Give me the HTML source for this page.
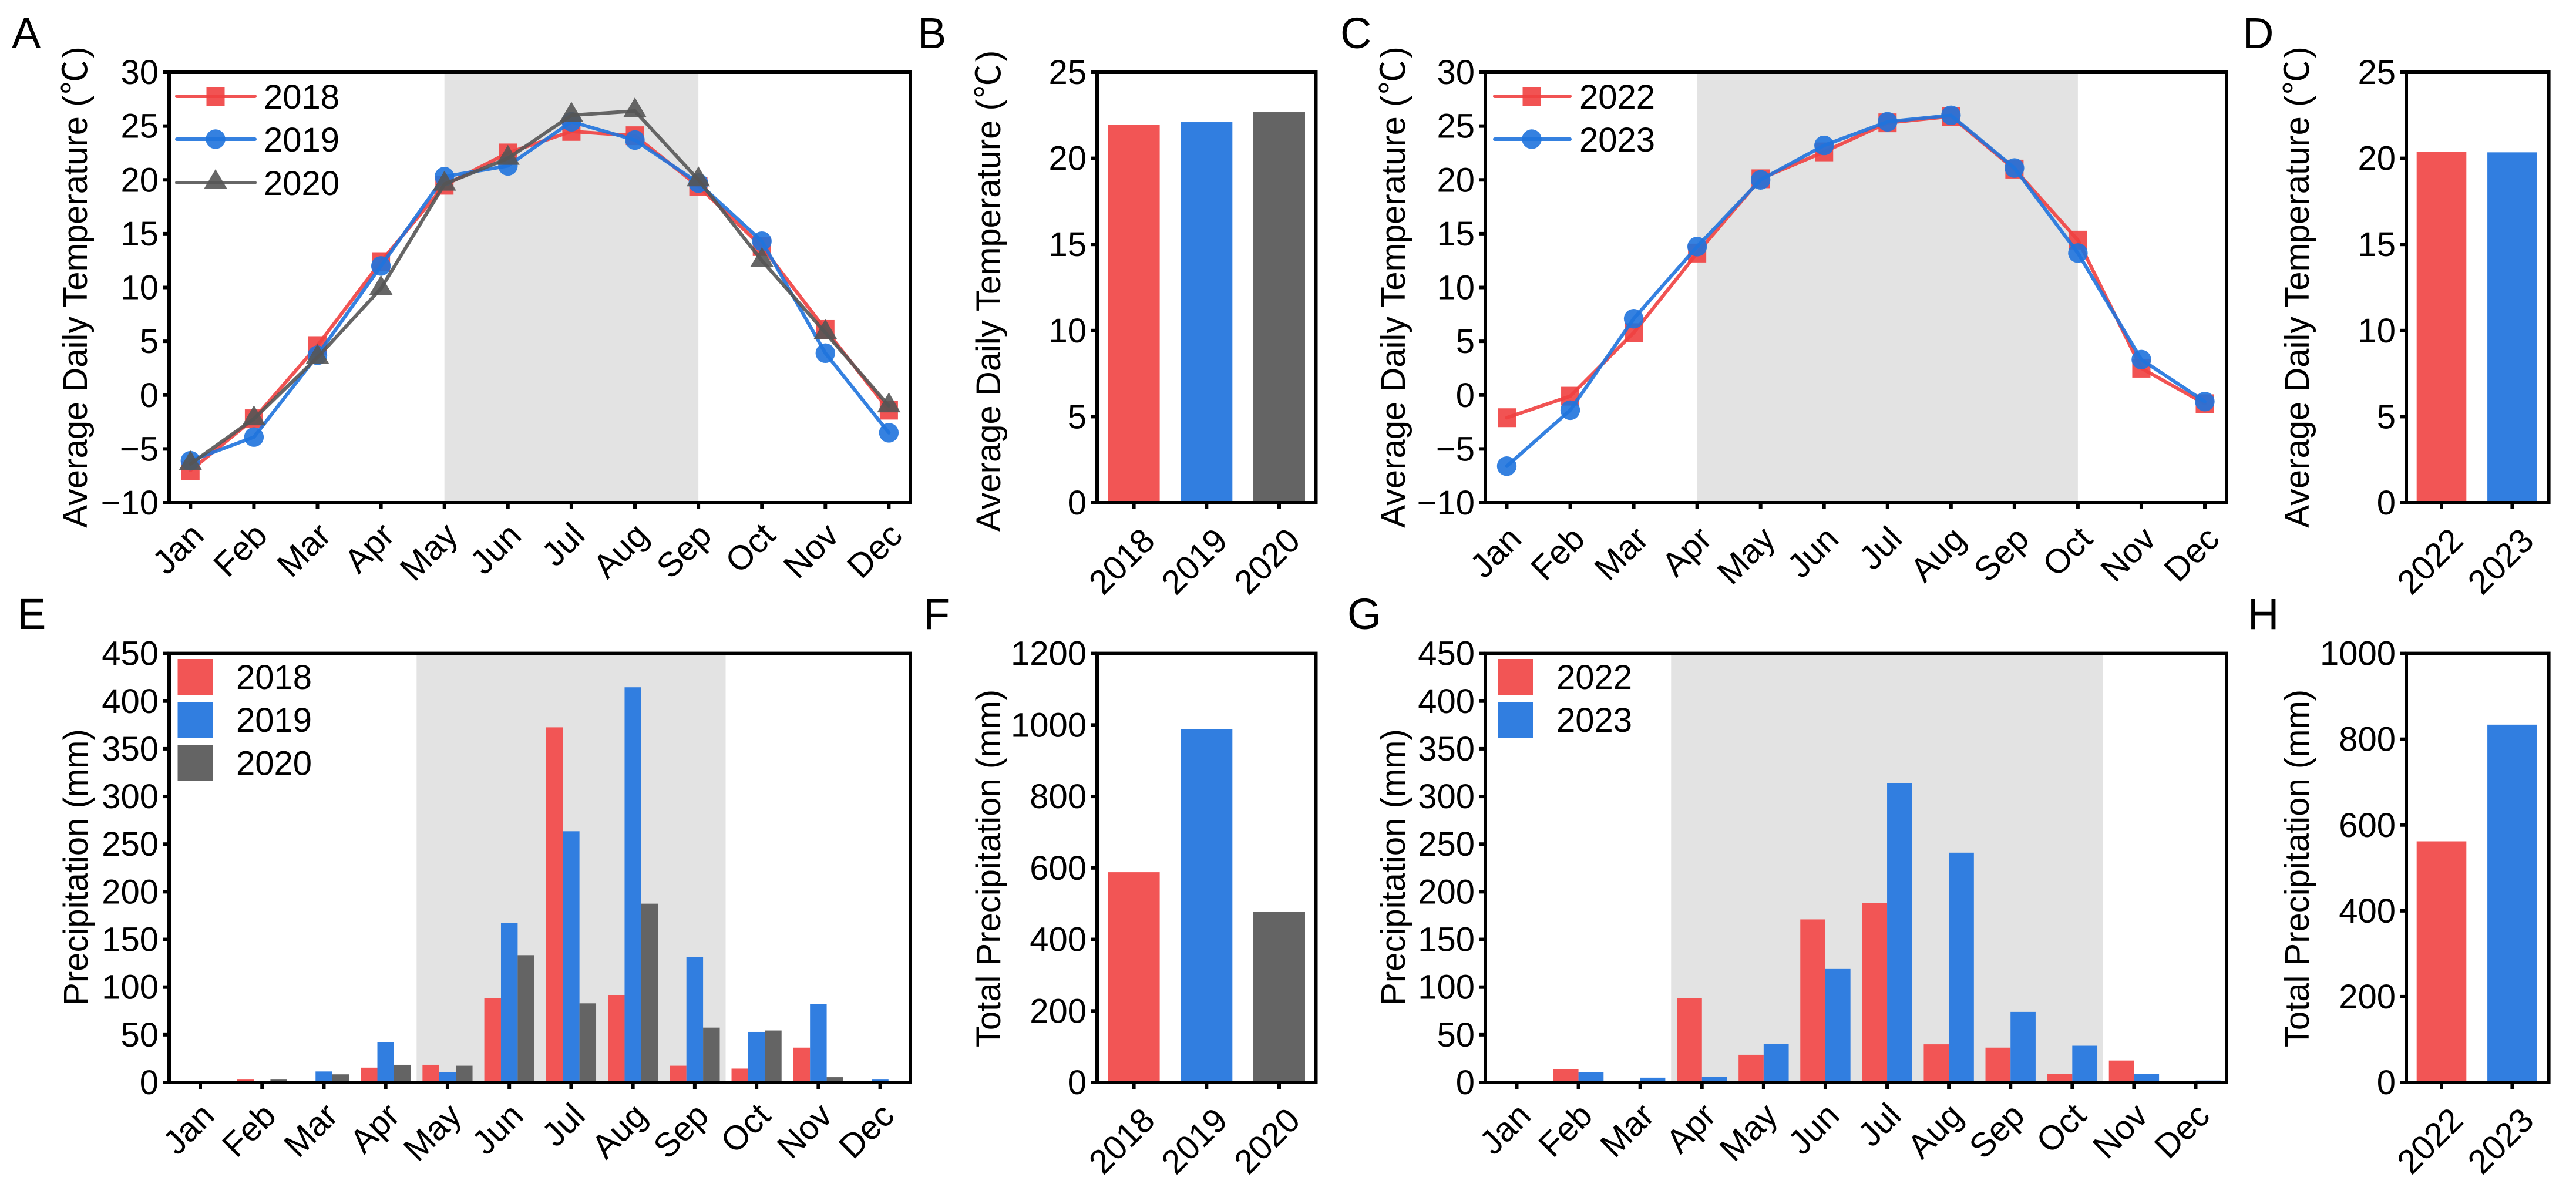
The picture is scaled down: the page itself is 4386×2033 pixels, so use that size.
<!DOCTYPE html>
<html lang="en">
<head>
<meta charset="utf-8">
<title>Temperature and precipitation panels</title>
<style>
html,body{margin:0;padding:0;background:#fff;}
svg{display:block;font-family:"Liberation Sans","Noto Sans CJK SC",sans-serif;fill:#000;}
</style>
</head>
<body>
<svg id="figure" xmlns="http://www.w3.org/2000/svg" width="4386" height="2033" viewBox="0 0 4386 2033">
<rect x="0" y="0" width="4386" height="2033" fill="#ffffff"/>
</svg>
<script>
// ---------- Data ----------
const months = ['Jan','Feb','Mar','Apr','May','Jun','Jul','Aug','Sep','Oct','Nov','Dec'];

const years1820 = ['2018','2019','2020'];
const years2223 = ['2022','2023'];

const temp2018 = [-7,-2.2,4.6,12.4,19.5,22.5,24.5,24.1,19.4,13.8,6.1,-1.4];
const temp2019 = [-6.1,-3.9,3.7,12,20.3,21.3,25.4,23.7,19.7,14.3,3.9,-3.5];
const temp2020 = [-6.4,-2.2,3.5,9.9,19.6,22,26,26.4,20,12.5,5.8,-1];
const temp2022 = [-2.1,-0.1,5.8,13.2,20.1,22.6,25.3,25.9,21,14.4,2.5,-0.8];
const temp2023 = [-6.6,-1.4,7.1,13.8,20,23.2,25.4,26,21.1,13.2,3.3,-0.6];

const meanTemp1820 = [21.96,22.1,22.68];
const meanTemp2223 = [20.37,20.35];

const precip2018 = [0,3,0,15.5,18.5,88.5,372.5,91.5,17.5,14.5,36.5,0];
const precip2019 = [0,0,11.5,42,10.5,167.5,263.5,414.5,131.5,53,82.5,3];
const precip2020 = [0,3,8.5,18.5,17.5,133.5,83,187.5,57.5,54.5,5.5,0];
const precip2022 = [0,13.8,0,88.5,29,171,188,40,36.5,9,23,0];
const precip2023 = [1.6,11,5,6,40.5,119,314,241,74,38.5,9,2];

const totalPrecip1820 = [588,988,478];
const totalPrecip2223 = [562,834];

const tempTicks = [-10,-5,0,5,10,15,20,25,30];
const meanTempTicks = [0,5,10,15,20,25];
const precipTicks = [0,50,100,150,200,250,300,350,400,450];
const totalTicks1820 = [0,200,400,600,800,1000,1200];
const totalTicks2223 = [0,200,400,600,800,1000];

// ---------- Drawing helpers ----------
const SVGNS = 'http://www.w3.org/2000/svg';
const svg = document.getElementById('figure');
const RED = '#f04040', BLUE = '#1f73dd', GRAY = '#555555';
const RED_BAR = '#f25555', BLUE_BAR = '#317ee0', GRAY_BAR = '#646464';
const SHADE = '#e3e3e3';

function make(parent, tag, attrs, txt) {
  const el = document.createElementNS(SVGNS, tag);
  for (const k in attrs) el.setAttribute(k, attrs[k]);
  if (txt !== undefined) el.textContent = txt;
  parent.appendChild(el);
  return el;
}
function linearScale(d0, d1, r0, r1) {
  return function (v) { return r0 + (v - d0) * (r1 - r0) / (d1 - d0); };
}
function fmtTick(v) { return v < 0 ? '\u2212' + Math.abs(v) : String(v); }

function drawFrame(g, box, ticksY, y, tickXs, tickLabels, labelDx, labelDy) {
  const rect = make(g, 'rect', {x: box.left, y: box.top, width: box.right - box.left, height: box.bottom - box.top, fill: 'none', stroke: '#000', 'stroke-width': 6});
  
  
  ticksY.forEach(function (t) {
    const ty = y(t);
    const tick = make(g, 'line', {x1: box.left - 11, x2: box.left, y1: ty, y2: ty, stroke: '#000', 'stroke-width': 6});
    
    
    const lab = make(g, 'text', {x: box.left - 18, y: ty + 20, 'font-size': 58, 'text-anchor': 'end'}, fmtTick(t));
    
    
  });
  tickXs.forEach(function (tx, i) {
    const tick = make(g, 'line', {x1: tx, x2: tx, y1: box.bottom, y2: box.bottom + 11, stroke: '#000', 'stroke-width': 6});
    
    
    const ax = tx + labelDx, ay = box.bottom + labelDy;
    const lab = make(g, 'text', {x: ax, y: ay, 'font-size': 58, 'text-anchor': 'end', transform: 'rotate(-45 ' + ax + ' ' + ay + ')'}, tickLabels[i]);
    
    
  });
}
function drawYTitle(g, text, baseX, centerY) {
  const t = make(g, 'text', {x: baseX, y: centerY, 'font-size': 58, 'text-anchor': 'middle', transform: 'rotate(-90 ' + baseX + ' ' + centerY + ')'}, text);
  
  
}
function drawTempTitle(g, baseX, centerY) {
  const t = make(g, 'text', {x: baseX, y: centerY, 'font-size': 58, 'text-anchor': 'middle', transform: 'rotate(-90 ' + baseX + ' ' + centerY + ')'});
  
  
  make(t, 'tspan', {}, 'Average Daily Temperature (');
  make(t, 'tspan', {dx: 2}, '\u2103');
  make(t, 'tspan', {dx: 4}, ')');
}
function drawLetter(g, letter, x, y) {
  const t = make(g, 'text', {x: x, y: y, 'font-size': 74}, letter);
  
  
}
function drawMarker(g, kind, cx, cy, color) {
  let m;
  if (kind === 'square') {
    m = make(g, 'rect', {x: cx - 15.5, y: cy - 16, width: 31, height: 32, fill: color, 'fill-opacity': 0.9});
  } else if (kind === 'circle') {
    m = make(g, 'circle', {cx: cx, cy: cy, r: 16.7, fill: color, 'fill-opacity': 0.9});
  } else {
    m = make(g, 'polygon', {points: cx + ',' + (cy - 23) + ' ' + (cx + 20) + ',' + (cy + 11) + ' ' + (cx - 20) + ',' + (cy + 11), fill: color, 'fill-opacity': 0.9});
  }
  return m;
}
function drawLineSeries(g, name, values, x, y, color, kind) {
  const pts = values.map(function (v, i) { return x(i) + ',' + y(v); }).join(' ');
  const line = make(g, 'polyline', {points: pts, fill: 'none', stroke: color, 'stroke-opacity': 0.9, 'stroke-width': 6, 'stroke-linejoin': 'round', 'stroke-linecap': 'round'});
  
  
  values.forEach(function (v, i) {
    const m = drawMarker(g, kind, x(i), y(v), color);
    
    
  });
}
function drawLineLegend(g, entries, x0, x1, cx, tx) {
  entries.forEach(function (e) {
    const line = make(g, 'line', {x1: x0, x2: x1, y1: e.y, y2: e.y, stroke: e.color, 'stroke-opacity': 0.9, 'stroke-width': 6, 'stroke-linecap': 'round'});
    
    
    const m = drawMarker(g, e.kind, cx, e.y, e.color);
    
    
    const t = make(g, 'text', {x: tx, y: e.y + 21, 'font-size': 58}, e.label);
    
    
  });
}
function drawBarLegend(g, entries, x0, x1, tx) {
  entries.forEach(function (e) {
    const r = make(g, 'rect', {x: x0, y: e.y0, width: x1 - x0, height: e.y1 - e.y0, fill: e.color});
    
    
    const t = make(g, 'text', {x: tx, y: e.base, 'font-size': 58}, e.label);
    
    
  });
}
function drawBand(g, xStart, xEnd, box) {
  const b = make(g, 'rect', {x: xStart, y: box.top, width: xEnd - xStart, height: box.bottom - box.top, fill: SHADE});
  
  
}
function drawGroupedBars(g, seriesList, x, y, barW, box) {
  const n = seriesList.length;
  seriesList.forEach(function (s, si) {
    s.values.forEach(function (v, i) {
      const bx = x(i) + (si - n / 2) * barW;
      const r = make(g, 'rect', {x: bx, y: y(v), width: barW, height: Math.max(0, box.bottom - y(v)), fill: s.color});
      
      
    });
  });
}
function drawSingleBars(g, labels, values, colors, x, y, barW, box) {
  values.forEach(function (v, i) {
    const r = make(g, 'rect', {x: x(i) - barW / 2, y: y(v), width: barW, height: Math.max(0, box.bottom - y(v)), fill: colors[i]});
    
    
  });
}

// ---------- Panel A ----------
(function () {
  const g = make(svg, 'g', {});
  
  
  const box = {left: 288, right: 1550, top: 123, bottom: 856};
  const x = linearScale(0, 11, 324.3, 1513.4);
  const y = linearScale(-10, 30, box.bottom, box.top);
  drawBand(g, x(4), x(8), box);
  drawLineSeries(g, '2018', temp2018, x, y, RED, 'square');
  drawLineSeries(g, '2019', temp2019, x, y, BLUE, 'circle');
  drawLineSeries(g, '2020', temp2020, x, y, GRAY, 'triangle');
  drawFrame(g, box, tempTicks, y, months.map(function (m, i) { return x(i); }), months, 26, 59);
  drawLineLegend(g, [
    {label: '2018', y: 164, color: RED, kind: 'square'},
    {label: '2019', y: 237, color: BLUE, kind: 'circle'},
    {label: '2020', y: 311, color: GRAY, kind: 'triangle'}
  ], 301, 434, 367, 449);
  drawTempTitle(g, 148, 489);
  drawLetter(g, 'A', 20, 82);
})();

// ---------- Panel B ----------
(function () {
  const g = make(svg, 'g', {});
  
  
  const box = {left: 1868, right: 2240.5, top: 123, bottom: 856};
  const x = linearScale(0, 2, 1930.6, 2178);
  const y = linearScale(0, 25, box.bottom, box.top);
  drawSingleBars(g, years1820, meanTemp1820, [RED_BAR, BLUE_BAR, GRAY_BAR], x, y, 88, box);
  drawFrame(g, box, meanTempTicks, y, years1820.map(function (m, i) { return x(i); }), years1820, 39, 68);
  drawTempTitle(g, 1703, 495.5);
  drawLetter(g, 'B', 1562, 82);
})();

// ---------- Panel C ----------
(function () {
  const g = make(svg, 'g', {});
  
  
  const box = {left: 2529, right: 3791, top: 123, bottom: 856};
  const x = linearScale(0, 11, 2565.5, 3754);
  const y = linearScale(-10, 30, box.bottom, box.top);
  drawBand(g, x(3), x(9), box);
  drawLineSeries(g, '2022', temp2022, x, y, RED, 'square');
  drawLineSeries(g, '2023', temp2023, x, y, BLUE, 'circle');
  drawFrame(g, box, tempTicks, y, months.map(function (m, i) { return x(i); }), months, 28, 65);
  drawLineLegend(g, [
    {label: '2022', y: 164, color: RED, kind: 'square'},
    {label: '2023', y: 237, color: BLUE, kind: 'circle'}
  ], 2545, 2673, 2608, 2689);
  drawTempTitle(g, 2392, 489);
  drawLetter(g, 'C', 2282, 82);
})();

// ---------- Panel D ----------
(function () {
  const g = make(svg, 'g', {});
  
  
  const box = {left: 4097, right: 4339.6, top: 123, bottom: 856};
  const x = linearScale(0, 1, 4157, 4277.4);
  const y = linearScale(0, 25, box.bottom, box.top);
  drawSingleBars(g, years2223, meanTemp2223, [RED_BAR, BLUE_BAR], x, y, 84.6, box);
  drawFrame(g, box, meanTempTicks, y, years2223.map(function (m, i) { return x(i); }), years2223, 40, 68);
  drawTempTitle(g, 3931, 489);
  drawLetter(g, 'D', 3818, 82);
})();

// ---------- Panel E ----------
(function () {
  const g = make(svg, 'g', {});
  
  
  const box = {left: 288, right: 1550, top: 1112.6, bottom: 1843};
  const x = linearScale(0, 11, 341, 1498.6);
  const y = linearScale(0, 450, box.bottom, box.top);
  drawBand(g, x(3.5), x(8.5), box);
  drawGroupedBars(g, [
    {name: '2018', values: precip2018, color: RED_BAR},
    {name: '2019', values: precip2019, color: BLUE_BAR},
    {name: '2020', values: precip2020, color: GRAY_BAR}
  ], x, y, 28.4, box);
  drawFrame(g, box, precipTicks, y, months.map(function (m, i) { return x(i); }), months, 27, 60);
  drawBarLegend(g, [
    {label: '2018', color: RED_BAR, y0: 1122, y1: 1183, base: 1173},
    {label: '2019', color: BLUE_BAR, y0: 1196, y1: 1256, base: 1246},
    {label: '2020', color: GRAY_BAR, y0: 1269, y1: 1329, base: 1319.5}
  ], 302.5, 362, 402);
  drawYTitle(g, 'Precipitation (mm)', 149, 1476.5);
  drawLetter(g, 'E', 29, 1071);
})();

// ---------- Panel F ----------
(function () {
  const g = make(svg, 'g', {});
  
  
  const box = {left: 1868, right: 2240.5, top: 1112.6, bottom: 1843};
  const x = linearScale(0, 2, 1930.6, 2178);
  const y = linearScale(0, 1200, box.bottom, box.top);
  drawSingleBars(g, years1820, totalPrecip1820, [RED_BAR, BLUE_BAR, GRAY_BAR], x, y, 88, box);
  drawFrame(g, box, totalTicks1820, y, years1820.map(function (m, i) { return x(i); }), years1820, 39, 68);
  drawYTitle(g, 'Total Precipitation (mm)', 1703, 1478.5);
  drawLetter(g, 'F', 1572, 1071);
})();

// ---------- Panel G ----------
(function () {
  const g = make(svg, 'g', {});
  
  
  const box = {left: 2529, right: 3791, top: 1112.6, bottom: 1843};
  const x = linearScale(0, 11, 2582.5, 3738.5);
  const y = linearScale(0, 450, box.bottom, box.top);
  drawBand(g, x(2.5), x(9.5), box);
  drawGroupedBars(g, [
    {name: '2022', values: precip2022, color: RED_BAR},
    {name: '2023', values: precip2023, color: BLUE_BAR}
  ], x, y, 42.7, box);
  drawFrame(g, box, precipTicks, y, months.map(function (m, i) { return x(i); }), months, 27, 60);
  drawBarLegend(g, [
    {label: '2022', color: RED_BAR, y0: 1122, y1: 1183, base: 1173},
    {label: '2023', color: BLUE_BAR, y0: 1196, y1: 1256, base: 1246}
  ], 2550, 2610, 2650);
  drawYTitle(g, 'Precipitation (mm)', 2392, 1476.5);
  drawLetter(g, 'G', 2294, 1071);
})();

// ---------- Panel H ----------
(function () {
  const g = make(svg, 'g', {});
  
  
  const box = {left: 4097, right: 4339.6, top: 1112.6, bottom: 1843};
  const x = linearScale(0, 1, 4157, 4277.4);
  const y = linearScale(0, 1000, box.bottom, box.top);
  drawSingleBars(g, years2223, totalPrecip2223, [RED_BAR, BLUE_BAR], x, y, 84.6, box);
  drawFrame(g, box, totalTicks2223, y, years2223.map(function (m, i) { return x(i); }), years2223, 40, 68);
  drawYTitle(g, 'Total Precipitation (mm)', 3931, 1478.5);
  drawLetter(g, 'H', 3827, 1071);
})();
</script>
</body>
</html>
